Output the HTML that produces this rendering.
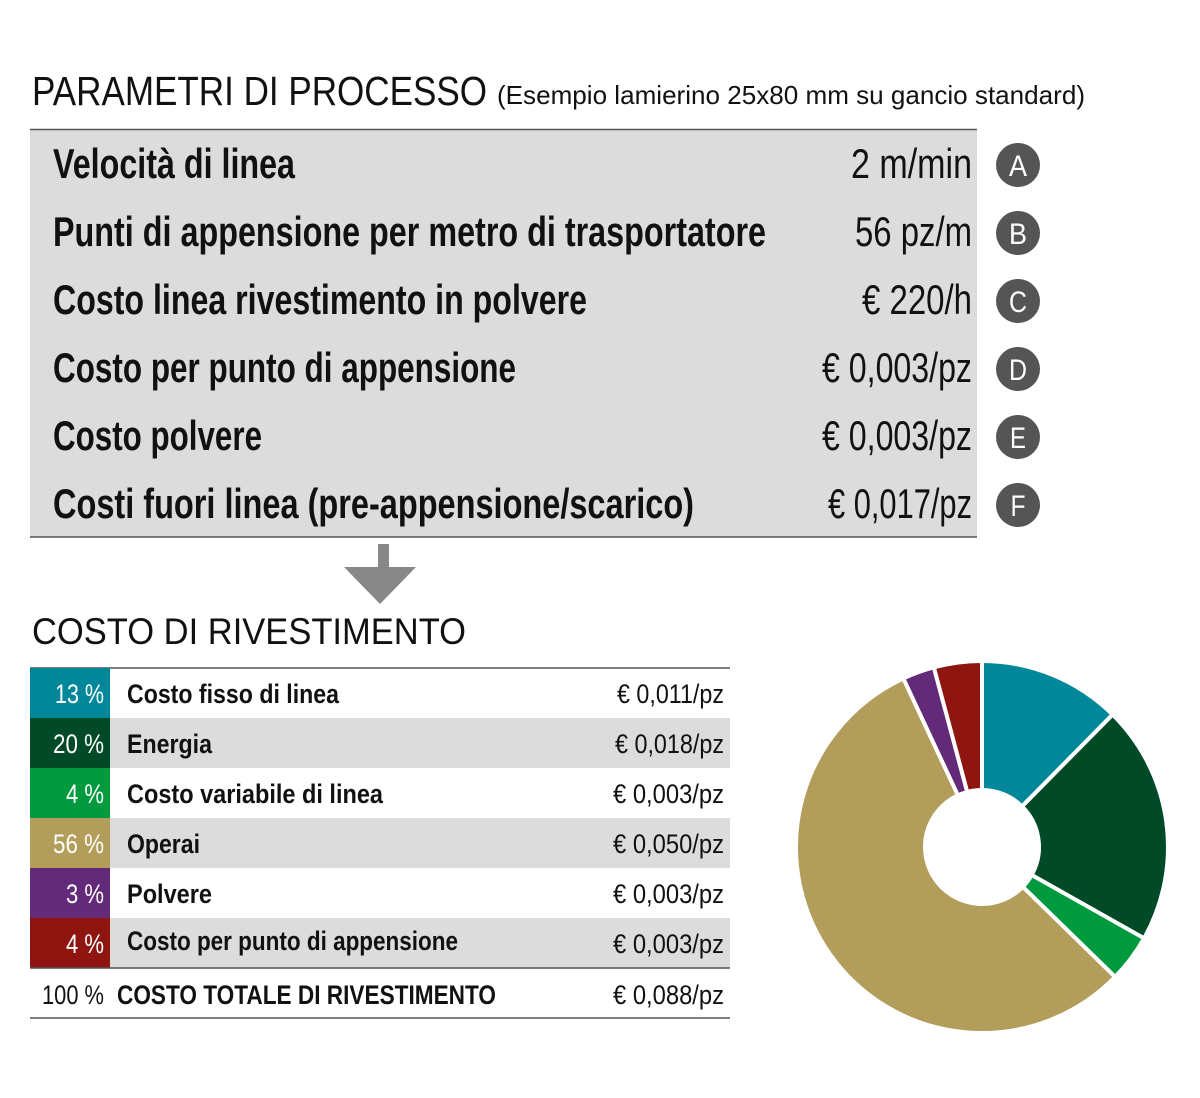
<!DOCTYPE html>
<html><head><meta charset="utf-8"><style>html,body{margin:0;padding:0;background:#fff}svg{display:block}</style></head>
<body>
<svg id="s" width="1200" height="1098" viewBox="0 0 1200 1098" xmlns="http://www.w3.org/2000/svg" font-family="Liberation Sans, sans-serif">
<rect width="1200" height="1098" fill="#fff"/>
<text x="32" y="105" font-size="41" textLength="455" lengthAdjust="spacingAndGlyphs" fill="#111">PARAMETRI DI PROCESSO</text>
<text x="497" y="104" font-size="26" textLength="588" lengthAdjust="spacingAndGlyphs" fill="#111">(Esempio lamierino 25x80 mm su gancio standard)</text>
<rect x="30" y="129" width="947" height="408" fill="#dcdcdc"/>
<line x1="30" y1="129.5" x2="977" y2="129.5" stroke="#555" stroke-width="1.5"/>
<line x1="30" y1="537" x2="977" y2="537" stroke="#555" stroke-width="1.5"/>
<g font-size="42" font-weight="bold" fill="#111">
<text x="53" y="178" textLength="242" lengthAdjust="spacingAndGlyphs">Velocità di linea</text>
<text x="53" y="246" textLength="713" lengthAdjust="spacingAndGlyphs">Punti di appensione per metro di trasportatore</text>
<text x="53" y="314" textLength="534" lengthAdjust="spacingAndGlyphs">Costo linea rivestimento in polvere</text>
<text x="53" y="382" textLength="463" lengthAdjust="spacingAndGlyphs">Costo per punto di appensione</text>
<text x="53" y="450" textLength="209" lengthAdjust="spacingAndGlyphs">Costo polvere</text>
<text x="53" y="518" textLength="641" lengthAdjust="spacingAndGlyphs">Costi fuori linea (pre-appensione/scarico)</text>
</g>
<g font-size="42" fill="#111">
<text x="851" y="178" textLength="121" lengthAdjust="spacingAndGlyphs">2 m/min</text>
<text x="855" y="246" textLength="117" lengthAdjust="spacingAndGlyphs">56 pz/m</text>
<text x="862" y="314" textLength="110" lengthAdjust="spacingAndGlyphs">€ 220/h</text>
<text x="822" y="382" textLength="150" lengthAdjust="spacingAndGlyphs">€ 0,003/pz</text>
<text x="822" y="450" textLength="150" lengthAdjust="spacingAndGlyphs">€ 0,003/pz</text>
<text x="828" y="518" textLength="144" lengthAdjust="spacingAndGlyphs">€ 0,017/pz</text>
</g>
<g fill="#555"><circle cx="1018" cy="165" r="22"/><circle cx="1018" cy="233" r="22"/><circle cx="1018" cy="301" r="22"/><circle cx="1018" cy="369" r="22"/><circle cx="1018" cy="437" r="22"/><circle cx="1018" cy="505" r="22"/></g>
<g fill="#fff" font-size="30" text-anchor="middle">
<text x="1018" y="176" textLength="18" lengthAdjust="spacingAndGlyphs">A</text><text x="1018" y="244" textLength="18" lengthAdjust="spacingAndGlyphs">B</text><text x="1018" y="312" textLength="18" lengthAdjust="spacingAndGlyphs">C</text><text x="1018" y="380" textLength="18" lengthAdjust="spacingAndGlyphs">D</text><text x="1018" y="448" textLength="16" lengthAdjust="spacingAndGlyphs">E</text><text x="1018" y="516" textLength="15" lengthAdjust="spacingAndGlyphs">F</text>
</g>
<rect x="378" y="544" width="11" height="24" fill="#888"/>
<polygon points="344,567 416,567 380,604" fill="#888"/>
<text x="32" y="644" font-size="37" textLength="434" lengthAdjust="spacingAndGlyphs" fill="#111">COSTO DI RIVESTIMENTO</text>
<line x1="30" y1="668" x2="730" y2="668" stroke="#555" stroke-width="1.5"/>
<rect x="110" y="718" width="620" height="50" fill="#dcdcdc"/>
<rect x="110" y="818" width="620" height="50" fill="#dcdcdc"/>
<rect x="110" y="918" width="620" height="50" fill="#dcdcdc"/>
<rect x="30" y="668" width="80" height="50" fill="#00889a"/>
<rect x="30" y="718" width="80" height="50" fill="#004a28"/>
<rect x="30" y="768" width="80" height="50" fill="#009a3e"/>
<rect x="30" y="818" width="80" height="50" fill="#b29d5a"/>
<rect x="30" y="868" width="80" height="50" fill="#622a78"/>
<rect x="30" y="918" width="80" height="50" fill="#8e1510"/>
<line x1="30" y1="968" x2="730" y2="968" stroke="#555" stroke-width="1.5"/>
<line x1="30" y1="1018" x2="730" y2="1018" stroke="#555" stroke-width="1.5"/>
<g font-size="27" fill="#fff">
<text x="55" y="703" textLength="49" lengthAdjust="spacingAndGlyphs">13 %</text>
<text x="53" y="753" textLength="51" lengthAdjust="spacingAndGlyphs">20 %</text>
<text x="66" y="803" textLength="38" lengthAdjust="spacingAndGlyphs">4 %</text>
<text x="53" y="853" textLength="51" lengthAdjust="spacingAndGlyphs">56 %</text>
<text x="66" y="903" textLength="38" lengthAdjust="spacingAndGlyphs">3 %</text>
<text x="66" y="953" textLength="38" lengthAdjust="spacingAndGlyphs">4 %</text>
</g>
<g font-size="27" font-weight="bold" fill="#111">
<text x="127" y="703" textLength="212" lengthAdjust="spacingAndGlyphs">Costo fisso di linea</text>
<text x="127" y="753" textLength="85" lengthAdjust="spacingAndGlyphs">Energia</text>
<text x="127" y="803" textLength="256" lengthAdjust="spacingAndGlyphs">Costo variabile di linea</text>
<text x="127" y="853" textLength="73" lengthAdjust="spacingAndGlyphs">Operai</text>
<text x="127" y="903" textLength="85" lengthAdjust="spacingAndGlyphs">Polvere</text>
<text x="127" y="950" textLength="331" lengthAdjust="spacingAndGlyphs">Costo per punto di appensione</text>
<text x="117" y="1004" textLength="379" lengthAdjust="spacingAndGlyphs">COSTO TOTALE DI RIVESTIMENTO</text>
</g>
<g font-size="27" fill="#111">
<text x="42" y="1004" textLength="62" lengthAdjust="spacingAndGlyphs">100 %</text>
<text x="617" y="703" textLength="107" lengthAdjust="spacingAndGlyphs">€ 0,011/pz</text>
<text x="615" y="753" textLength="109" lengthAdjust="spacingAndGlyphs">€ 0,018/pz</text>
<text x="613" y="803" textLength="111" lengthAdjust="spacingAndGlyphs">€ 0,003/pz</text>
<text x="613" y="853" textLength="111" lengthAdjust="spacingAndGlyphs">€ 0,050/pz</text>
<text x="613" y="903" textLength="111" lengthAdjust="spacingAndGlyphs">€ 0,003/pz</text>
<text x="613" y="953" textLength="111" lengthAdjust="spacingAndGlyphs">€ 0,003/pz</text>
<text x="613" y="1004" textLength="111" lengthAdjust="spacingAndGlyphs">€ 0,088/pz</text>
</g>
<g id="pie" stroke="#fff" stroke-width="4" stroke-linejoin="miter"></g>
</svg>
<script>
(function(){
var cx=982,cy=847,R=186,r=57;
var segs=[[0,44.6,"#00889a"],[44.6,119.4,"#004a28"],[119.4,134.3,"#009a3e"],[134.3,335,"#b29d5a"],[335,345,"#622a78"],[345,360,"#8e1510"]];
function pt(a,rad){var t=a*Math.PI/180;return [cx+rad*Math.sin(t),cy-rad*Math.cos(t)];}
var g=document.getElementById("pie"),h="";
segs.forEach(function(s){
var a=s[0],b=s[1],lg=(b-a)>180?1:0;
var p1=pt(a,R),p2=pt(b,R),p3=pt(b,r),p4=pt(a,r);
h+='<path fill="'+s[2]+'" d="M'+p1[0]+' '+p1[1]+' A'+R+' '+R+' 0 '+lg+' 1 '+p2[0]+' '+p2[1]+' L'+p3[0]+' '+p3[1]+' A'+r+' '+r+' 0 '+lg+' 0 '+p4[0]+' '+p4[1]+' Z"/>';
});
g.innerHTML=h;
})();
</script>
</body></html>
